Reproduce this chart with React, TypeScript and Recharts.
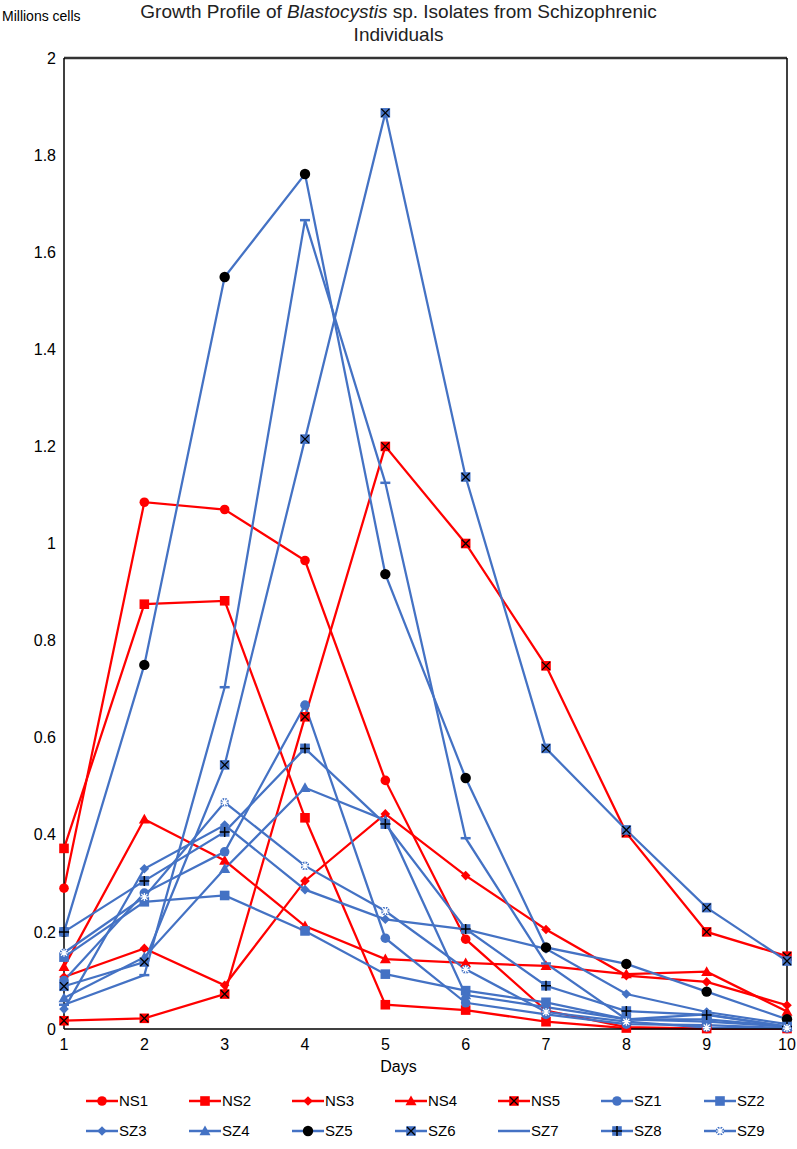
import React from "react";
import { LineChart, Line, XAxis, YAxis, ReferenceLine } from "recharts";

const days = [1, 2, 3, 4, 5, 6, 7, 8, 9, 10];
const yTicks = [0, 0.2, 0.4, 0.6, 0.8, 1, 1.2, 1.4, 1.6, 1.8, 2];

const NS1 = [0.29, 1.085, 1.07, 0.965, 0.512, 0.185, 0.038, 0.004, 0.001, 0.001];
const NS2 = [0.372, 0.875, 0.882, 0.435, 0.05, 0.039, 0.015, 0.002, 0.001, 0.001];
const NS3 = [0.107, 0.166, 0.09, 0.305, 0.443, 0.316, 0.205, 0.11, 0.097, 0.049];
const NS4 = [0.128, 0.432, 0.347, 0.212, 0.144, 0.136, 0.13, 0.113, 0.118, 0.036];
const NS5 = [0.017, 0.022, 0.072, 0.643, 1.2, 1.0, 0.748, 0.404, 0.2, 0.15];
const SZ1 = [0.1, 0.28, 0.365, 0.667, 0.187, 0.054, 0.03, 0.01, 0.008, 0.002];
const SZ2 = [0.148, 0.262, 0.275, 0.202, 0.113, 0.079, 0.055, 0.02, 0.02, 0.005];
const SZ3 = [0.041, 0.33, 0.42, 0.287, 0.226, 0.205, 0.165, 0.072, 0.035, 0.01];
const SZ4 = [0.064, 0.148, 0.33, 0.497, 0.43, 0.07, 0.045, 0.02, 0.03, 0.005];
const SZ5 = [0.2, 0.75, 1.549, 1.761, 0.937, 0.517, 0.168, 0.134, 0.077, 0.02];
const SZ6 = [0.088, 0.138, 0.544, 1.215, 1.887, 1.137, 0.578, 0.41, 0.25, 0.14];
const SZ7 = [0.05, 0.111, 0.704, 1.666, 1.125, 0.393, 0.135, 0.02, 0.015, 0.005];
const SZ8 = [0.2, 0.305, 0.406, 0.578, 0.422, 0.206, 0.089, 0.037, 0.029, 0.005];
const SZ9 = [0.157, 0.272, 0.467, 0.336, 0.243, 0.123, 0.035, 0.015, 0.003, 0.002];

const RED = "#FF0000";
const BLUE = "#4472C4";

type Shape = "circle" | "square" | "diamond" | "triangle" | "xsquare" | "dot" | "dash" | "plus" | "star";

interface SeriesDef {
  name: string;
  values: number[];
  color: string;
  shape: Shape;
}

const series: SeriesDef[] = [
  { name: "NS1", values: NS1, color: RED, shape: "circle" },
  { name: "NS2", values: NS2, color: RED, shape: "square" },
  { name: "NS3", values: NS3, color: RED, shape: "diamond" },
  { name: "NS4", values: NS4, color: RED, shape: "triangle" },
  { name: "NS5", values: NS5, color: RED, shape: "xsquare" },
  { name: "SZ1", values: SZ1, color: BLUE, shape: "circle" },
  { name: "SZ2", values: SZ2, color: BLUE, shape: "square" },
  { name: "SZ3", values: SZ3, color: BLUE, shape: "diamond" },
  { name: "SZ4", values: SZ4, color: BLUE, shape: "triangle" },
  { name: "SZ5", values: SZ5, color: BLUE, shape: "dot" },
  { name: "SZ6", values: SZ6, color: BLUE, shape: "xsquare" },
  { name: "SZ7", values: SZ7, color: BLUE, shape: "dash" },
  { name: "SZ8", values: SZ8, color: BLUE, shape: "plus" },
  { name: "SZ9", values: SZ9, color: BLUE, shape: "star" },
];

const data = days.map((d, i) => {
  const row: Record<string, number> = { day: d };
  series.forEach((s) => (row[s.name] = s.values[i]));
  return row;
});

const FONT = "'Liberation Sans', Arial, sans-serif";

function Marker({ shape, color, cx, cy }: { shape: Shape; color: string; cx: number; cy: number }) {
  if (cx == null || cy == null) return null;
  switch (shape) {
    case "circle":
      return <circle cx={cx} cy={cy} r={4.8} fill={color} />;
    case "dot":
      return <circle cx={cx} cy={cy} r={5.2} fill="#000" />;
    case "square":
      return <rect x={cx - 4.8} y={cy - 4.8} width={9.6} height={9.6} fill={color} />;
    case "diamond":
      return <polygon points={`${cx},${cy - 4.8} ${cx + 4.8},${cy} ${cx},${cy + 4.8} ${cx - 4.8},${cy}`} fill={color} />;
    case "triangle":
      return <polygon points={`${cx},${cy - 5.5} ${cx + 5.5},${cy + 4.2} ${cx - 5.5},${cy + 4.2}`} fill={color} />;
    case "xsquare":
      return (
        <g>
          <rect x={cx - 4.8} y={cy - 4.8} width={9.6} height={9.6} fill={color} />
          <path d={`M${cx - 4},${cy - 4}L${cx + 4},${cy + 4}M${cx + 4},${cy - 4}L${cx - 4},${cy + 4}`} stroke="#000" strokeWidth={1.3} />
        </g>
      );
    case "plus":
      return (
        <g>
          <rect x={cx - 4.8} y={cy - 4.8} width={9.6} height={9.6} fill={color} />
          <path d={`M${cx - 5},${cy}L${cx + 5},${cy}M${cx},${cy - 5}L${cx},${cy + 5}`} stroke="#000" strokeWidth={1.5} />
        </g>
      );
    case "dash":
      return <path d={`M${cx - 5},${cy}L${cx + 5},${cy}`} stroke={color} strokeWidth={2.5} />;
    case "star": {
      const d = `M${cx - 4},${cy}L${cx + 4},${cy}M${cx},${cy - 4}L${cx},${cy + 4}M${cx - 3},${cy - 3}L${cx + 3},${cy + 3}M${cx + 3},${cy - 3}L${cx - 3},${cy + 3}`;
      return (
        <g>
          <path d={d} stroke={color} strokeWidth={3.2} />
          <path d={d} stroke="#fff" strokeWidth={1.2} />
        </g>
      );
    }
  }
  return null;
}

const makeDot = (s: SeriesDef) => (p: any) => (
  <Marker key={`${s.name}-${p.index}`} shape={s.shape} color={s.color} cx={p.cx} cy={p.cy} />
);

function LegendItem({ s }: { s: SeriesDef }) {
  return (
    <div style={{ display: "flex", alignItems: "center", width: 103 }}>
      <svg width={32} height={14}>
        <line x1={0} y1={7} x2={32} y2={7} stroke={s.color} strokeWidth={2.5} />
        {s.shape !== "dash" && <Marker shape={s.shape} color={s.color} cx={16} cy={7} />}
      </svg>
      <span style={{ fontSize: 15, marginLeft: 1 }}>{s.name}</span>
    </div>
  );
}

export default function App() {
  return (
    <div style={{ position: "absolute", left: 0, top: 0, width: 797, height: 1149, background: "#fff", fontFamily: FONT, color: "#000" }}>
      <div style={{ position: "absolute", left: 0, top: 0, width: 797, textAlign: "center", fontSize: 19, lineHeight: "23px", color: "#222" }}>
        Growth Profile of <i>Blastocystis</i> sp. Isolates from Schizophrenic
        <br />
        Individuals
      </div>
      <div style={{ position: "absolute", left: 2, top: 8, fontSize: 14 }}>Millions cells</div>
      <LineChart width={797} height={1149} data={data} margin={{ top: 58, right: 10, bottom: 0, left: 4 }}>
        <XAxis
          dataKey="day"
          type="number"
          domain={[1, 10]}
          ticks={days}
          height={120}
          tickLine={false}
          axisLine={{ stroke: "#000", strokeWidth: 1.5 }}
          tick={{ fill: "#000", fontSize: 16, fontFamily: FONT }}
          tickMargin={4}
        />
        <YAxis
          type="number"
          domain={[0, 2]}
          ticks={yTicks}
          width={60}
          tickLine={false}
          axisLine={{ stroke: "#000", strokeWidth: 1.5 }}
          tick={{ fill: "#000", fontSize: 16, fontFamily: FONT }}
          tickFormatter={(v: number) => String(Math.round(v * 10) / 10)}
          tickMargin={2}
        />
        <ReferenceLine y={2} stroke="#333" strokeWidth={2.5} />
        <ReferenceLine x={10} stroke="#000" strokeWidth={1.5} />
        {series.map((s) => (
          <Line
            key={s.name}
            dataKey={s.name}
            type="linear"
            stroke={s.color}
            strokeWidth={2.25}
            dot={makeDot(s)}
            activeDot={false}
            isAnimationActive={false}
          />
        ))}
      </LineChart>
      <div style={{ position: "absolute", left: 0, top: 1058, width: 797, textAlign: "center", fontSize: 16 }}>Days</div>
      {[0, 1].map((row) => (
        <div key={row} style={{ position: "absolute", left: 86, top: row === 0 ? 1092 : 1122, display: "flex" }}>
          {series.slice(row * 7, row * 7 + 7).map((s) => (
            <LegendItem key={s.name} s={s} />
          ))}
        </div>
      ))}
    </div>
  );
}
